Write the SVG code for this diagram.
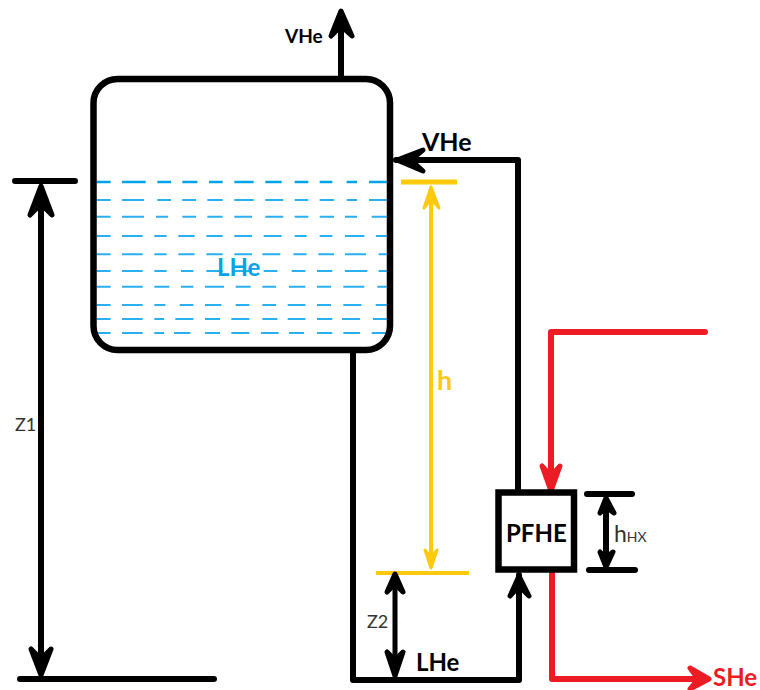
<svg xmlns="http://www.w3.org/2000/svg" width="760" height="690" viewBox="0 0 760 690">
<style>
text{font-family:"Lato","Carlito","Liberation Sans",sans-serif}
.b{font-weight:700;font-size:24px}
.t{font-size:18px;fill:#333}
.k{fill:none;stroke:#000;stroke-width:6;stroke-linecap:round;stroke-linejoin:round}
.r{fill:none;stroke:#ED1C24;stroke-width:6;stroke-linecap:round;stroke-linejoin:round}
.y{fill:none;stroke:#FFC90E;stroke-width:4}
.hk{fill:#000;stroke:#000;stroke-width:5;stroke-linejoin:round;stroke-linecap:round}
.hr{fill:#ED1C24;stroke:#ED1C24;stroke-width:5;stroke-linejoin:round}
.hy{fill:#FFC90E;stroke:#FFC90E;stroke-width:3;stroke-linejoin:round}
.l{fill:none;stroke:#2AB0EE;stroke-width:6}
</style>
<rect width="760" height="690" fill="#fff"/>
<g id="connectors">
<path class="k" d="M341 79V14"/>
<path class="hk" d="M331 36L341 11L352 36L341 26Z"/>
<path class="k" d="M353 350V680H519V575"/>
<path class="hk" d="M510 596L519 576L529 596L519 586Z"/>
<path class="k" d="M518 490V160H396"/>
<path class="hk" d="M423 150L397 160L423 171L411 160Z"/>
<path class="r" d="M705 332H551V490"/>
<path class="hr" d="M542 466L551 491L560 466L551 476Z"/>
<path class="r" d="M552 570V679H705"/>
<path class="hr" d="M690 668L709 679L690 689L698 679Z"/>
</g>
<g id="dimensions">
<path class="k" d="M15 181H75M41 190V670M20 679H214"/>
<path class="hk" d="M30 215L41 186L52 215L41 204Z"/>
<path class="hk" d="M31 649L41 675L51 649L41 659Z"/>
<path class="y" style="stroke-width:5" d="M401 182H457"/>
<path class="y" d="M431 190V560M376 573H469"/>
<path class="hy" d="M424 208L431 187L439 208L431 199Z"/>
<path class="hy" d="M425 550L431 568L437 550L431 558Z"/>
<path class="k" style="stroke-width:5" d="M395 580V670"/>
<path class="hk" d="M387 592L395 574L403 592L395 584Z"/>
<path class="hk" d="M387 652L395 676L403 652L395 660Z"/>
<path class="k" d="M587 494H632M589 570H635M606 505V560"/>
<path class="hk" d="M600 513L606 498L614 513L606 507Z"/>
<path class="hk" d="M600 552L606 567L613 552L606 558Z"/>
</g>
<g id="vessel">
<g transform="translate(80 170) scale(.33333)">
<path class="l" style="stroke:#00A2E8;stroke-width:8" d="M50 36H92M126 36H197M232 36H273M307 36H352M387 36H428M463 36H521M556 36H605M644 36H685M719 36H757M800 36H831M867 36H920"/>
<path class="l" d="M50 90H92M126 90H192M232 90H273M307 90H348M382 90H428M463 90H521M556 90H610M644 90H685M719 90H762M800 90H831M867 90H920"/>
<path class="l" d="M50 140H92M126 140H192M228 140H264M307 140H348M382 140H428M463 140H516M556 140H610M644 140H685M719 140H762M795 140H831M875 140H920"/>
<path class="l" d="M50 198H92M126 198H188M223 198H260M295 198H344M379 198H428M463 198H516M551 198H605M644 198H680M719 198H757M795 198H853M888 198H920"/>
<path class="l" d="M50 253H92M126 253H188M223 253H260M295 253H344M379 253H428M463 253H516M547 253H601M640 253H680M715 253H762M795 253H858M896 253H920"/>
<path class="l" d="M50 303H92M126 303H188M223 303H260M303 303H340M379 303H428M463 303H516M551 303H592M635 303H676M711 303H757M795 303H862M896 303H920"/>
<path class="l" d="M50 350H92M126 350H188M223 350H268M303 350H340M375 350H432M467 350H512M547 350H588M627 350H676M711 350H753M790 350H853M892 350H920"/>
<path class="l" d="M50 405H92M126 405H188M223 405H256M299 405H340M375 405H424M467 405H508M547 405H588M623 405H676M711 405H753M790 405H844M887 405H920"/>
<path class="l" d="M50 447H92M126 447H188M223 447H252M286 447H340M375 447H420M454 447H508M547 447H592M623 447H676M711 447H757M786 447H840M879 447H920"/>
<path class="l" d="M50 489H92M126 489H188M223 489H252M282 489H331M375 489H420M454 489H508M543 489H596M627 489H672M711 489H757M790 489H840M875 489H920"/>
</g>
<rect x="93.500" y="79" width="296.500" height="271" rx="24" fill="none" stroke="#000" stroke-width="6.500"/>
<text class="b" x="217" y="276" fill="#00A2E8">LHe</text>
</g>
<g id="pfhe">
<rect x="498.500" y="492.500" width="75.500" height="77" fill="none" stroke="#000" stroke-width="6.500"/>
<text class="b" x="506" y="542" fill="#000">PFHE</text>
</g>
<g id="labels">
<text class="b" x="285" y="43" style="font-size:19px">VHe</text>
<text class="b" x="422" y="151" style="font-size:25px">VHe</text>
<text class="b" x="437" y="390" fill="#FFC90E" style="font-size:27px">h</text>
<text class="t" x="15" y="431">Z1</text>
<text class="t" x="367" y="628">Z2</text>
<text x="614" y="542" style="font-size:23px;fill:#333">h<tspan style="font-size:14px">HX</tspan></text>
<text class="b" x="416" y="671">LHe</text>
<text class="b" x="713" y="686" fill="#ED1C24">SHe</text>
</g>
</svg>
